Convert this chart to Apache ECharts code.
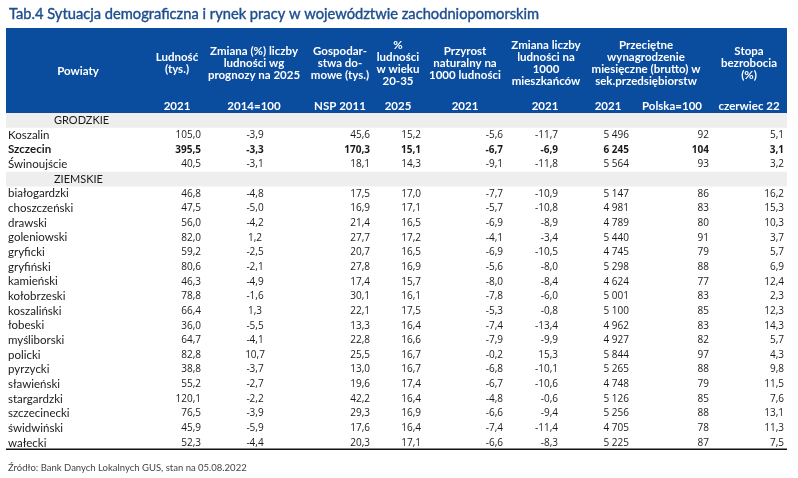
<!DOCTYPE html>
<html>
<head>
<meta charset="utf-8">
<script src="https://cdn.jsdelivr.net/npm/echarts@6/dist/echarts.min.js"></script>
<style>html,body{margin:0;padding:0;background:#fff}#c{width:798px;height:478px}</style>
</head>
<body>
<div id="c"></div>
<script>
// ---------- DATA ----------
const sectionLabels = ['GRODZKIE', 'ZIEMSKIE'];
const cityNames = ['Koszalin', 'Szczecin', 'Świnoujście'];
const countyNames = ['białogardzki','choszczeński','drawski','goleniowski','gryficki','gryfiński','kamieński','kołobrzeski','koszaliński','łobeski','myśliborski','policki','pyrzycki','sławieński','stargardzki','szczecinecki','świdwiński','wałecki'];
const boldRows = ['Szczecin'];

// cities
const cityLudnosc   = [105.0, 395.5, 40.5];
const cityZmiana    = [-3.9, -3.3, -3.1];
const cityGosp      = [45.6, 170.3, 18.1];
const cityPct2035   = [15.2, 15.1, 14.3];
const cityPrzyrost  = [-5.6, -6.7, -9.1];
const cityZmLiczby  = [-11.7, -6.9, -11.8];
const cityWynagr    = [5496, 6245, 5564];
const cityPolska    = [92, 104, 93];
const cityStopa     = [5.1, 3.1, 3.2];

// counties
const ctyLudnosc  = [46.8, 47.5, 56.0, 82.0, 59.2, 80.6, 46.3, 78.8, 66.4, 36.0, 64.7, 82.8, 38.8, 55.2, 120.1, 76.5, 45.9, 52.3];
const ctyZmiana   = [-4.8, -5.0, -4.2, 1.2, -2.5, -2.1, -4.9, -1.6, 1.3, -5.5, -4.1, 10.7, -3.7, -2.7, -2.2, -3.9, -5.9, -4.4];
const ctyGosp     = [17.5, 16.9, 21.4, 27.7, 20.7, 27.8, 17.4, 30.1, 22.1, 13.3, 22.8, 25.5, 13.0, 19.6, 42.2, 29.3, 17.6, 20.3];
const ctyPct2035  = [17.0, 17.1, 16.5, 17.2, 16.5, 16.9, 15.7, 16.1, 17.5, 16.4, 16.6, 16.7, 16.7, 17.4, 16.4, 16.9, 16.4, 17.1];
const ctyPrzyrost = [-7.7, -5.7, -6.9, -4.1, -6.9, -5.6, -8.0, -7.8, -5.3, -7.4, -7.9, -0.2, -6.8, -6.7, -4.8, -6.6, -7.4, -6.6];
const ctyZmLiczby = [-10.9, -10.8, -8.9, -3.4, -10.5, -8.0, -8.4, -6.0, -0.8, -13.4, -9.9, 15.3, -10.1, -10.6, -0.6, -9.4, -11.4, -8.3];
const ctyWynagr   = [5147, 4981, 4789, 5440, 4745, 5298, 4624, 5001, 5100, 4962, 4927, 5844, 5265, 4748, 5126, 5256, 4705, 5225];
const ctyPolska   = [86, 83, 80, 91, 79, 88, 77, 83, 85, 83, 82, 97, 88, 79, 85, 88, 78, 87];
const ctyStopa    = [16.2, 15.3, 10.3, 3.7, 5.7, 6.9, 12.4, 2.3, 12.3, 14.3, 5.7, 4.3, 9.8, 11.5, 7.6, 13.1, 11.3, 7.5];

const headerTitles = ['Powiaty', 'Ludność\n(tys.)', 'Zmiana (%) liczby\nludności wg\nprognozy na 2025', 'Gospodar-\nstwa do-\nmowe (tys.)', '%\nludności\nw wieku\n20-35', 'Przyrost\nnaturalny na\n1000 ludności', 'Zmiana liczby\nludności na\n1000\nmieszkańców', 'Przeciętne\nwynagrodzenie\nmiesięczne (brutto) w\nsek.przedsiębiorstw', 'Stopa\nbezrobocia\n(%)'];
const headerYears = ['', '2021', '2014=100', 'NSP 2011', '2025', '2021', '2021', '2021', 'Polska=100', 'czerwiec 22'];
const titleText = 'Tab.4 Sytuacja demograficzna i rynek pracy w województwie zachodniopomorskim';
const sourceText = 'Źródło: Bank Danych Lokalnych GUS, stan na 05.08.2022';

// ---------- LAYOUT ----------
const BLUE = '#0a4c9e';
const TXT = '#1a1a1a';
const LBL_FONT = 'Lato, sans-serif';
const NUM_FONT = '"Open Sans", sans-serif';
// column anchor x and alignment
const cols = [
  {x: 8,   align: 'left'},   // name
  {x: 201, align: 'right'},  // ludnosc
  {x: 255, align: 'center'}, // zmiana
  {x: 370, align: 'right'},  // gosp
  {x: 421, align: 'right'},  // pct
  {x: 503, align: 'right'},  // przyrost
  {x: 558, align: 'right'},  // zm liczby
  {x: 629, align: 'right'},  // wynagr
  {x: 709, align: 'right'},  // polska
  {x: 784, align: 'right'}   // stopa
];
const headerCenters = [78, 177, 254, 340, 398, 465, 546, 646, 749];
const yearCenters = [null, 177, 254, 340, 398, 465, 545, 608, 672, 749];

function f1(v) { return v.toFixed(1).replace('.', ','); }
function fInt(v) { return String(v).replace(/\B(?=(\d{3})+(?!\d))/g, ' '); }

// build rows
const rows = [];
rows.push({section: sectionLabels[0]});
cityNames.forEach((n, i) => rows.push({name: n, vals: [f1(cityLudnosc[i]), f1(cityZmiana[i]), f1(cityGosp[i]), f1(cityPct2035[i]), f1(cityPrzyrost[i]), f1(cityZmLiczby[i]), fInt(cityWynagr[i]), String(cityPolska[i]), f1(cityStopa[i])]}));
rows.push({section: sectionLabels[1]});
countyNames.forEach((n, i) => rows.push({name: n, vals: [f1(ctyLudnosc[i]), f1(ctyZmiana[i]), f1(ctyGosp[i]), f1(ctyPct2035[i]), f1(ctyPrzyrost[i]), f1(ctyZmLiczby[i]), fInt(ctyWynagr[i]), String(ctyPolska[i]), f1(ctyStopa[i])]}));

const cells = [];
const bands = [];
rows.forEach((r, ri) => {
  if (r.section) {
    bands.push([ri]);
    cells.push({pos: [54, ri], text: r.section, align: 'left', font: 'normal 11px ' + LBL_FONT});
  } else {
    const bold = boldRows.indexOf(r.name) >= 0;
    cells.push({pos: [cols[0].x, ri], text: r.name, align: 'left', font: (bold ? 'bold ' : 'normal ') + '11.5px ' + LBL_FONT});
    r.vals.forEach((v, ci) => {
      const c = cols[ci + 1];
      cells.push({pos: [c.x, ri], text: v, align: c.align, font: (bold ? 'bold ' : 'normal ') + '10px ' + NUM_FONT});
    });
  }
});

const nRows = rows.length;
const rowH = 14.66;
const gridTop = 113.1;
const HDR_FONT = 'bold 11.5px ' + LBL_FONT;

const graphics = [
  {type: 'rect', shape: {x: 6, y: 28, width: 781, height: 85}, style: {fill: BLUE}, z: 1}
];
headerTitles.forEach((t, i) => {
  graphics.push({type: 'text', z: 2, style: {text: t, x: headerCenters[i], y: i === 0 ? 71 : 63.3, align: 'center', verticalAlign: 'middle', lineHeight: 12.2, font: HDR_FONT, fill: '#fff'}});
});
headerYears.forEach((t, i) => {
  if (!t) return;
  graphics.push({type: 'text', z: 2, style: {text: t, x: yearCenters[i], y: 106, align: 'center', verticalAlign: 'middle', font: HDR_FONT, fill: '#fff'}});
});
graphics.push({type: 'text', style: {text: sourceText, x: 8, y: 468, verticalAlign: 'middle', font: 'normal 9.5px ' + LBL_FONT, fill: '#444'}});

const chart = echarts.init(document.getElementById('c'), null, {renderer: 'canvas'});
chart.setOption({
  animation: false,
  backgroundColor: '#fff',
  title: {text: titleText, left: 4, top: 2, textStyle: {fontFamily: LBL_FONT, fontWeight: 'normal', fontSize: 14.7, color: '#1d4e8f', textBorderColor: '#1d4e8f', textBorderWidth: 0.4}},
  grid: {left: 0, right: 0, top: gridTop, height: nRows * rowH},
  xAxis: {type: 'value', min: 0, max: 798, show: false},
  yAxis: {type: 'value', inverse: true, min: -0.5, max: nRows - 0.5, show: false},
  graphic: graphics,
  series: [
    {
      type: 'custom', z: 1, silent: true,
      data: bands,
      encode: {y: 0},
      renderItem: function (params, api) {
        const r = api.value(0);
        const p0 = api.coord([6, r - 0.5]);
        const p1 = api.coord([787, r + 0.5]);
        return {type: 'rect', shape: {x: p0[0], y: p0[1], width: p1[0] - p0[0], height: p1[1] - p0[1]}, style: {fill: '#eeeeee'}};
      }
    },
    {
      type: 'custom', z: 1, silent: true,
      data: [[nRows - 0.5]],
      encode: {y: 0},
      renderItem: function (params, api) {
        const p0 = api.coord([6, api.value(0)]);
        const p1 = api.coord([787, api.value(0)]);
        return {type: 'line', shape: {x1: p0[0], y1: p0[1] - 1, x2: p1[0], y2: p1[1] - 1}, style: {stroke: '#111', lineWidth: 1.5}};
      }
    },
    {
      type: 'custom', z: 3, silent: true,
      data: cells.map(c => c.pos),
      encode: {x: 0, y: 1},
      renderItem: function (params, api) {
        const c = cells[params.dataIndex];
        const p = api.coord([api.value(0), api.value(1)]);
        return {type: 'text', style: {text: c.text, x: p[0], y: p[1], align: c.align, verticalAlign: 'middle', font: c.font, fill: TXT}};
      }
    }
  ]
});
</script>
</body>
</html>
